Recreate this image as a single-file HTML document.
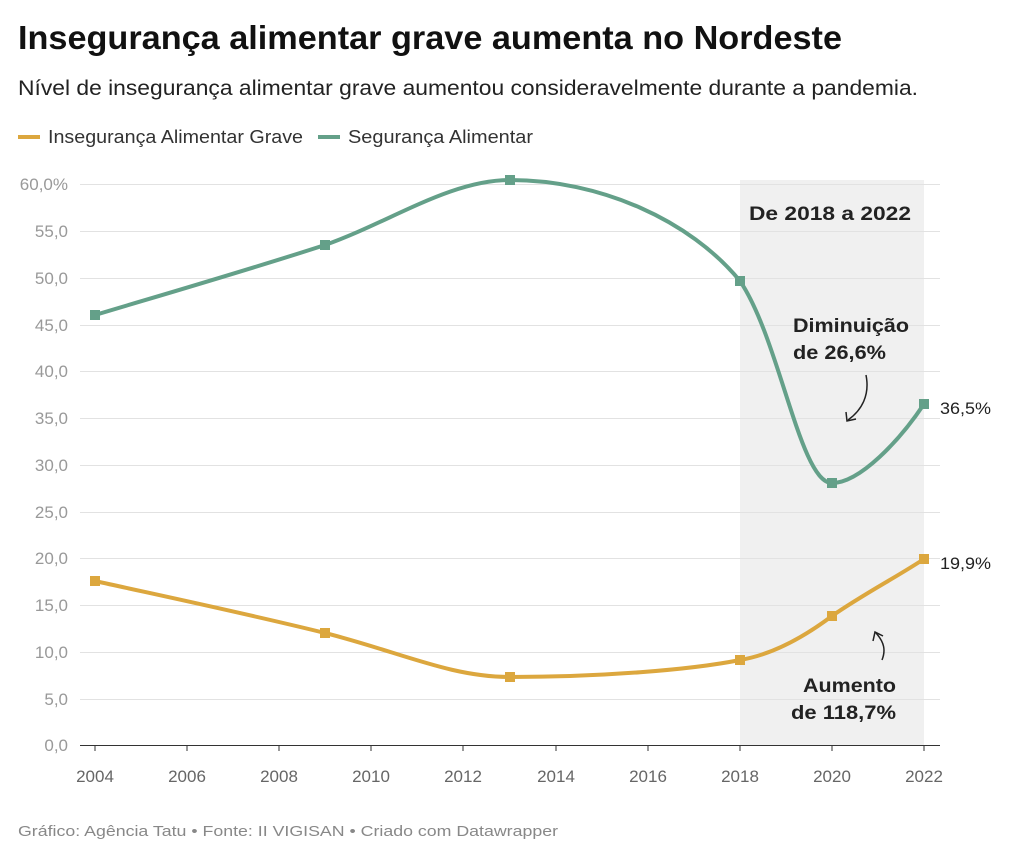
<!DOCTYPE html>
<html><head><meta charset="utf-8"><style>
body{margin:0;background:#fff;width:1024px;height:858px;overflow:hidden;font-family:"Liberation Sans",Arial,sans-serif}
</style></head><body>
<svg width="1024" height="858" xmlns="http://www.w3.org/2000/svg" font-family="Liberation Sans, Arial, sans-serif">
<text x="18" y="49" font-size="33" font-weight="bold" fill="#111" textLength="824" lengthAdjust="spacingAndGlyphs">Insegurança alimentar grave aumenta no Nordeste</text>
<text x="18" y="95" font-size="21" fill="#222" textLength="900" lengthAdjust="spacingAndGlyphs">Nível de insegurança alimentar grave aumentou consideravelmente durante a pandemia.</text>
<line x1="18" y1="137" x2="40" y2="137" stroke="#dca73e" stroke-width="4"/>
<text x="48" y="143" font-size="18" fill="#333" textLength="255" lengthAdjust="spacingAndGlyphs">Insegurança Alimentar Grave</text>
<line x1="318" y1="137" x2="340" y2="137" stroke="#64a089" stroke-width="4"/>
<text x="348" y="143" font-size="18" fill="#333" textLength="185" lengthAdjust="spacingAndGlyphs">Segurança Alimentar</text>
<rect x="740" y="180" width="184" height="565" fill="#f0f0f0"/>
<g stroke="#e2e2e2" stroke-width="1">
<line x1="80" y1="184.5" x2="940" y2="184.5"/><line x1="80" y1="231.5" x2="940" y2="231.5"/>
<line x1="80" y1="278.5" x2="940" y2="278.5"/><line x1="80" y1="325.5" x2="940" y2="325.5"/>
<line x1="80" y1="371.5" x2="940" y2="371.5"/><line x1="80" y1="418.5" x2="940" y2="418.5"/>
<line x1="80" y1="465.5" x2="940" y2="465.5"/><line x1="80" y1="512.5" x2="940" y2="512.5"/>
<line x1="80" y1="558.5" x2="940" y2="558.5"/><line x1="80" y1="605.5" x2="940" y2="605.5"/>
<line x1="80" y1="652.5" x2="940" y2="652.5"/><line x1="80" y1="699.5" x2="940" y2="699.5"/>
</g>
<line x1="80" y1="745.5" x2="940" y2="745.5" stroke="#333"/>
<g font-size="17" fill="#999" text-anchor="end">
<text x="68" y="190">60,0%</text><text x="68" y="237">55,0</text><text x="68" y="284">50,0</text>
<text x="68" y="331">45,0</text><text x="68" y="377">40,0</text><text x="68" y="424">35,0</text>
<text x="68" y="471">30,0</text><text x="68" y="518">25,0</text><text x="68" y="564">20,0</text>
<text x="68" y="611">15,0</text><text x="68" y="658">10,0</text><text x="68" y="705">5,0</text>
<text x="68" y="751">0,0</text>
</g>
<g stroke="#333"><line x1="95" y1="745" x2="95" y2="751"/><line x1="187" y1="745" x2="187" y2="751"/><line x1="279" y1="745" x2="279" y2="751"/><line x1="371" y1="745" x2="371" y2="751"/><line x1="463" y1="745" x2="463" y2="751"/><line x1="556" y1="745" x2="556" y2="751"/><line x1="648" y1="745" x2="648" y2="751"/><line x1="740" y1="745" x2="740" y2="751"/><line x1="832" y1="745" x2="832" y2="751"/><line x1="924" y1="745" x2="924" y2="751"/></g>
<g font-size="17" fill="#666" text-anchor="middle">
<text x="95" y="782">2004</text><text x="187" y="782">2006</text><text x="279" y="782">2008</text>
<text x="371" y="782">2010</text><text x="463" y="782">2012</text><text x="556" y="782">2014</text>
<text x="648" y="782">2016</text><text x="740" y="782">2018</text><text x="832" y="782">2020</text>
<text x="924" y="782">2022</text>
</g>
<path d="M95,315 C172,292 248,270 325,245 C390,222 450,180 510,180 C600,180 690,220 740,281 C780,340 800,483 832,483 C860,483 900,440 924,404" fill="none" stroke="#64a089" stroke-width="4"/>
<path d="M95,581 C172,598 248,614 325,633 C400,652 450,677 510,677 C600,677 690,670 740,660 C770,655 800,640 832,616 C862,595 895,578 924,559" fill="none" stroke="#dca73e" stroke-width="4"/>
<g fill="#64a089"><rect x="90" y="310" width="10" height="10"/><rect x="320" y="240" width="10" height="10"/><rect x="505" y="175" width="10" height="10"/><rect x="735" y="276" width="10" height="10"/><rect x="827" y="478" width="10" height="10"/><rect x="919" y="399" width="10" height="10"/></g>
<g fill="#dca73e"><rect x="90" y="576" width="10" height="10"/><rect x="320" y="628" width="10" height="10"/><rect x="505" y="672" width="10" height="10"/><rect x="735" y="655" width="10" height="10"/><rect x="827" y="611" width="10" height="10"/><rect x="919" y="554" width="10" height="10"/></g>
<text x="940" y="414" font-size="17" fill="#222" textLength="51" lengthAdjust="spacingAndGlyphs">36,5%</text>
<text x="940" y="569" font-size="17" fill="#222" textLength="51" lengthAdjust="spacingAndGlyphs">19,9%</text>
<text x="749" y="220" font-size="19" font-weight="bold" fill="#222" textLength="162" lengthAdjust="spacingAndGlyphs">De 2018 a 2022</text>
<text x="793" y="332" font-size="19" font-weight="bold" fill="#222" textLength="116" lengthAdjust="spacingAndGlyphs">Diminuição</text>
<text x="793" y="359" font-size="19" font-weight="bold" fill="#222" textLength="93" lengthAdjust="spacingAndGlyphs">de 26,6%</text>
<path d="M866,375 C870,395 862,410 848,420" fill="none" stroke="#222" stroke-width="1.5"/>
<path d="M846,412 L847,421 L856,419" fill="none" stroke="#222" stroke-width="1.5"/>
<text x="803" y="692" font-size="19" font-weight="bold" fill="#222" textLength="93" lengthAdjust="spacingAndGlyphs">Aumento</text>
<text x="791" y="719" font-size="19" font-weight="bold" fill="#222" textLength="105" lengthAdjust="spacingAndGlyphs">de 118,7%</text>
<path d="M882,660 C886,650 884,642 876,633" fill="none" stroke="#222" stroke-width="1.5"/>
<path d="M873,641 L875,632 L883,636" fill="none" stroke="#222" stroke-width="1.5"/>
<text x="18" y="836" font-size="15" fill="#888" textLength="540" lengthAdjust="spacingAndGlyphs">Gráfico: Agência Tatu • Fonte: II VIGISAN • Criado com Datawrapper</text>
</svg>
</body></html>
